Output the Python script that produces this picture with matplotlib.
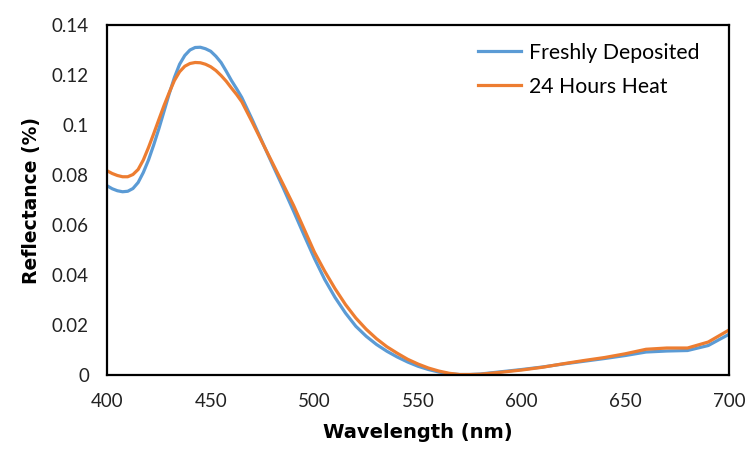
import matplotlib
matplotlib.use("Agg")
import matplotlib.pyplot as plt

wavelength = [400, 402.5, 405, 407.5, 410, 412.5, 415, 417.5, 420, 422.5, 425, 427.5,
              430, 432.5, 435, 437.5, 440, 442.5, 445, 447.5, 450, 452.5, 455, 457.5,
              460, 462.5, 465, 470, 475, 480, 485, 490, 495, 500, 505, 510, 515,
              520, 525, 530, 535, 540, 545, 550, 555, 560, 565, 570, 575, 580, 590, 600,
              610, 620, 630, 640, 650, 660, 670, 680, 690, 700]

fresh = [0.0757, 0.0745, 0.0737, 0.0733, 0.0735, 0.0746, 0.0770, 0.0810, 0.0860, 0.0920,
         0.0985, 0.1055, 0.1125, 0.1190, 0.1243, 0.1278, 0.1300, 0.1310, 0.1311, 0.1305,
         0.1295, 0.1275, 0.1250, 0.1215, 0.1178, 0.1145, 0.1110, 0.1022, 0.0930, 0.0838,
         0.0748, 0.0655, 0.0560, 0.0467, 0.0382, 0.0310, 0.0248,
         0.0195, 0.0155, 0.0122, 0.0095, 0.0072, 0.0052, 0.0035, 0.0022, 0.0012, 0.0005,
         0.0002, 0.0002, 0.0004, 0.0013, 0.0022,
         0.0032, 0.0044, 0.0055, 0.0066, 0.0078, 0.0092, 0.0096, 0.0098, 0.0118, 0.0163]

heat = [0.0817, 0.0806, 0.0798, 0.0793, 0.0793, 0.0802, 0.0822, 0.0860, 0.0910, 0.0965,
        0.1022, 0.1078, 0.1130, 0.1178, 0.1213, 0.1235, 0.1246, 0.1250, 0.1249, 0.1243,
        0.1233, 0.1218, 0.1198, 0.1175, 0.1148, 0.1122, 0.1093, 0.1012, 0.0928, 0.0845,
        0.0762, 0.0678, 0.0585, 0.0492, 0.0415, 0.0345, 0.0282,
        0.0228, 0.0183, 0.0145, 0.0113, 0.0087, 0.0063, 0.0044, 0.0028, 0.0016, 0.0007,
        0.0002, 0.0002, 0.0003, 0.0011, 0.0020,
        0.0031, 0.0045, 0.0058, 0.0070, 0.0085, 0.0103, 0.0108, 0.0108, 0.0132, 0.0180]

xticks = [400, 450, 500, 550, 600, 650, 700]
yticks = [0, 0.02, 0.04, 0.06, 0.08, 0.1, 0.12, 0.14]
ylabels = ["0", "0.02", "0.04", "0.06", "0.08", "0.1", "0.12", "0.14"]

plt.rcParams["font.family"] = ["Lato", "DejaVu Sans"]

fig = plt.figure(figsize=(7.49, 4.57), dpi=100)
ax = fig.add_axes([0.1429, 0.1794, 0.8304, 0.7659])

ax.plot(wavelength, fresh, color="#5B9BD5", lw=2.3, label="Freshly Deposited",
        solid_joinstyle="round")
ax.plot(wavelength, heat, color="#ED7D31", lw=2.3, label="24 Hours Heat",
        solid_joinstyle="round")

ax.set_xlim(400, 700)
ax.set_ylim(0, 0.14)
ax.set_xticks(xticks)
ax.set_yticks(yticks)
ax.set_yticklabels(ylabels)
ax.tick_params(length=0, labelsize=13.5, colors="#222222", pad=13)
for s in ax.spines.values():
    s.set_linewidth(1.6)
    s.set_color("black")

ax.set_xlabel("Wavelength (nm)", fontsize=14, fontweight="bold",
              family="DejaVu Sans", labelpad=9)
ax.set_ylabel("Reflectance (%)", fontsize=13.5, fontweight="bold",
              family="DejaVu Sans", labelpad=8)

ax.legend(loc="upper right", bbox_to_anchor=(0.984, 1.004), frameon=False,
          fontsize=15.3, handlelength=2.0, handletextpad=0.42, labelspacing=0.65)

fig.savefig("out.png", dpi=100)
